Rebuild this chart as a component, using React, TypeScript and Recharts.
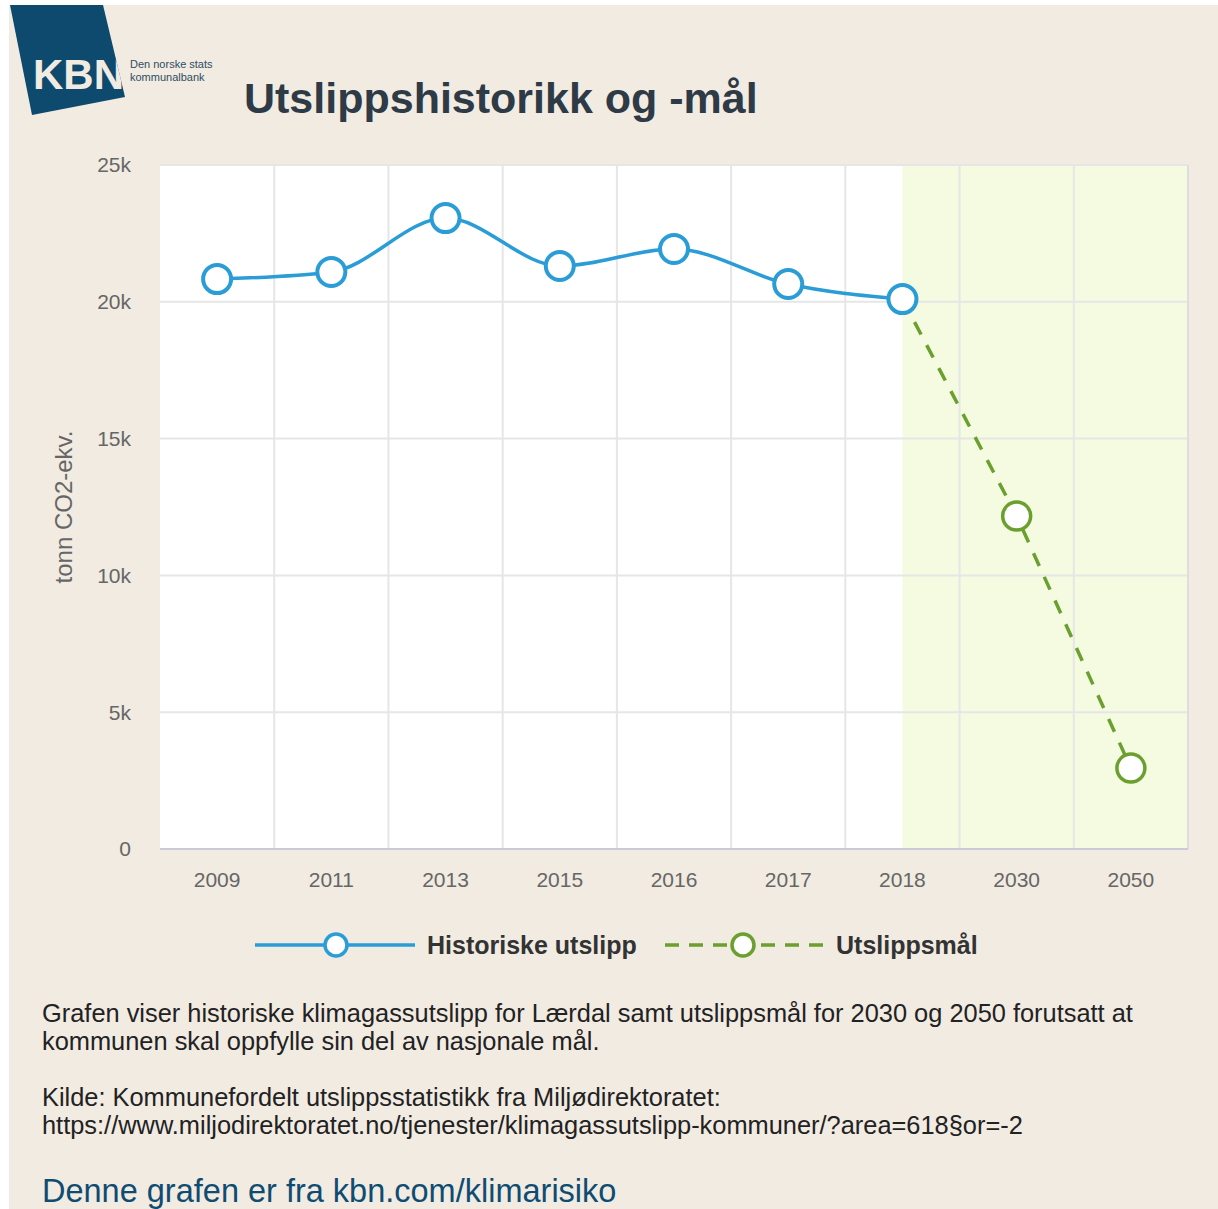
import {
  LineChart,
  Line,
  XAxis,
  YAxis,
  ReferenceArea,
  ReferenceLine,
} from 'recharts';

const years = ['2009', '2011', '2013', '2015', '2016', '2017', '2018', '2030', '2050'];
const historic = [20830, 21090, 23060, 21310, 21930, 20650, 20100, null, null];
const target = [null, null, null, null, null, null, 20100, 12170, 2960];
const yTicks = [0, 5000, 10000, 15000, 20000, 25000];

const BLUE = '#2a9dd6';
const GREEN = '#6b9f2e';
const FONT = '"Liberation Sans", Arial, sans-serif';

const data = years.map((year, i) => ({
  i,
  year,
  hist: historic[i],
  target: target[i],
}));

const targetDot = (props: any) => {
  const { cx, cy, payload, index } = props;
  // 2018 is shared with the historic series, its dot covers this one
  if (payload.hist != null) return <g key={`t-${index}`} />;
  return (
    <circle
      key={`t-${index}`}
      cx={cx}
      cy={cy}
      r={14}
      fill="#fff"
      stroke={GREEN}
      strokeWidth={3.5}
    />
  );
};

function Legend() {
  return (
    <svg width={1209} height={44} style={{ position: 'absolute', left: 0, top: 917 }}>
      <line x1={246} x2={406} y1={23} y2={23} stroke={BLUE} strokeWidth={3.5} />
      <circle cx={327} cy={23} r={11} fill="#fff" stroke={BLUE} strokeWidth={3.5} />
      <text x={418} y={32} fontFamily={FONT} fontWeight="bold" fontSize={25} fill="#333">
        Historiske utslipp
      </text>
      <line
        x1={656}
        x2={814}
        y1={23}
        y2={23}
        stroke={GREEN}
        strokeWidth={3.5}
        strokeDasharray="14 10"
      />
      <circle cx={734} cy={23} r={11} fill="#fff" stroke={GREEN} strokeWidth={3.5} />
      <text x={827} y={32} fontFamily={FONT} fontWeight="bold" fontSize={25} fill="#333">
        Utslippsmål
      </text>
    </svg>
  );
}

export default function App() {
  return (
    <div
      style={{
        position: 'absolute',
        left: 9,
        top: 5,
        width: 1209,
        height: 1204,
        background: '#f1ebe2',
        fontFamily: FONT,
        overflow: 'hidden',
      }}
    >
      <svg width={240} height={120} style={{ position: 'absolute', left: 0, top: 0 }}>
        <defs>
          <clipPath id="logo">
            <polygon points="1,0 94,0 116,92 23,110" />
          </clipPath>
        </defs>
        <polygon points="1,0 94,0 116,92 23,110" fill="#0d4a6e" />
        <text
          x={24}
          y={84}
          fontFamily={FONT}
          fontWeight="bold"
          fontSize={42}
          fill="#f1ebe2"
          clipPath="url(#logo)"
        >
          KBN
        </text>
        <text x={121} y={63} fontFamily={FONT} fontSize={11} fill="#2f4d63">
          Den norske stats
        </text>
        <text x={121} y={76} fontFamily={FONT} fontSize={11} fill="#2f4d63">
          kommunalbank
        </text>
      </svg>

      <div
        style={{
          position: 'absolute',
          left: 235,
          top: 69,
          fontSize: 43,
          fontWeight: 'bold',
          color: '#2e3a45',
          whiteSpace: 'nowrap',
        }}
      >
        Utslippshistorikk og -mål
      </div>

      <div style={{ position: 'absolute', left: 0, top: 140 }}>
        <LineChart
          width={1209}
          height={780}
          data={data}
          margin={{ top: 20, right: 30, bottom: 16, left: 91 }}
        >
          <XAxis
            dataKey="i"
            type="number"
            domain={[-0.5, 8.5]}
            ticks={years.map((_, i) => i)}
            tickFormatter={(v) => years[v]}
            axisLine={{ stroke: '#c9ccd6', strokeWidth: 2 }}
            tickLine={false}
            tickMargin={17}
            height={60}
            tick={{ fill: '#666', fontSize: 21, fontFamily: FONT }}
          />
          <YAxis
            domain={[0, 25000]}
            ticks={yTicks}
            tickFormatter={(v) => (v === 0 ? '0' : `${v / 1000}k`)}
            axisLine={false}
            tickLine={false}
            tickMargin={23}
            width={60}
            tick={{ fill: '#666', fontSize: 21, fontFamily: FONT }}
            label={{
              value: 'tonn CO2-ekv.',
              angle: -90,
              position: 'center',
              dx: -67,
              fill: '#666',
              fontSize: 24,
              fontFamily: FONT,
            }}
          />
          <ReferenceArea
            x1={-0.5}
            x2={8.5}
            y1={0}
            y2={25000}
            fill="#fff"
            fillOpacity={1}
            stroke="none"
          />
          <ReferenceArea
            x1={6}
            x2={8.5}
            y1={0}
            y2={25000}
            fill="#f4fbe0"
            fillOpacity={1}
            stroke="none"
          />
          {yTicks.slice(1).map((v) => (
            <ReferenceLine key={`h${v}`} y={v} stroke="#e6e6e6" strokeWidth={2} />
          ))}
          {years.slice(1).map((_, i) => (
            <ReferenceLine key={`v${i}`} x={i + 0.5} stroke="#e6e6e6" strokeWidth={2} />
          ))}
          <ReferenceLine x={8.5} stroke="#dedede" strokeWidth={2} />
          <Line
            dataKey="target"
            type="linear"
            stroke={GREEN}
            strokeWidth={3.5}
            strokeDasharray="14 12"
            dot={targetDot}
            activeDot={false}
            isAnimationActive={false}
          />
          <Line
            dataKey="hist"
            type="monotone"
            stroke={BLUE}
            strokeWidth={3.5}
            dot={{ r: 14, fill: '#fff', stroke: BLUE, strokeWidth: 4 }}
            activeDot={false}
            isAnimationActive={false}
          />
        </LineChart>
      </div>

      <Legend />

      <div
        style={{
          position: 'absolute',
          left: 33,
          top: 994,
          fontSize: 25.4,
          lineHeight: '28px',
          color: '#222',
          whiteSpace: 'nowrap',
        }}
      >
        <div>
          Grafen viser historiske klimagassutslipp for Lærdal samt utslippsmål for 2030 og 2050
          forutsatt at
        </div>
        <div>kommunen skal oppfylle sin del av nasjonale mål.</div>
        <div style={{ height: 28 }} />
        <div>Kilde: Kommunefordelt utslippsstatistikk fra Miljødirektoratet:</div>
        <div>
          https://www.miljodirektoratet.no/tjenester/klimagassutslipp-kommuner/?area=618§or=-2
        </div>
      </div>

      <div
        style={{
          position: 'absolute',
          left: 33,
          top: 1168,
          fontSize: 32.5,
          color: '#0f4c72',
          whiteSpace: 'nowrap',
        }}
      >
        Denne grafen er fra kbn.com/klimarisiko
      </div>
    </div>
  );
}
